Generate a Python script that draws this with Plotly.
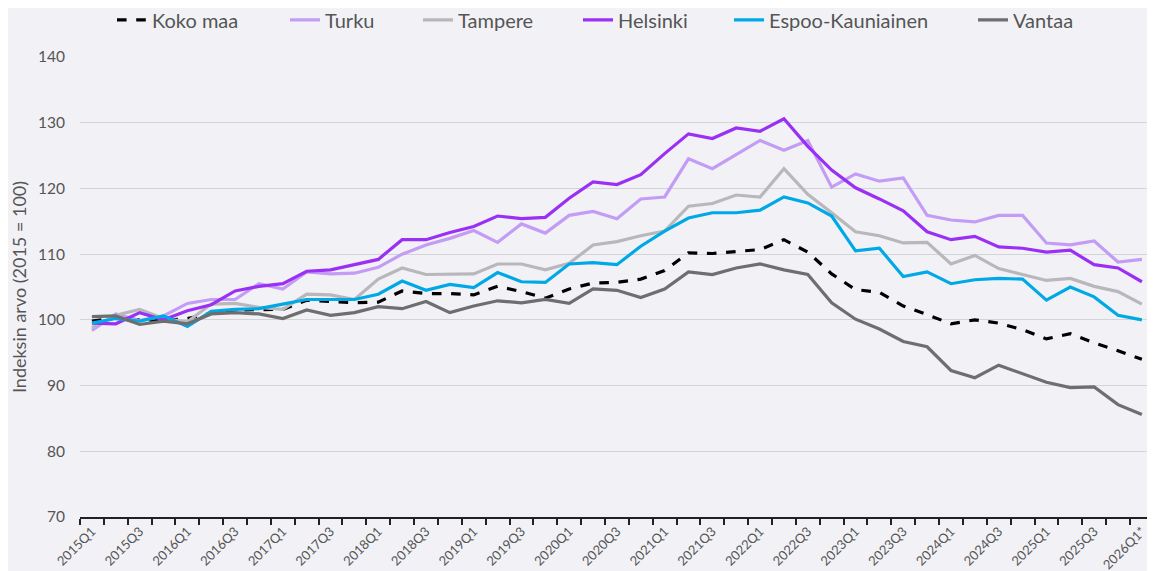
import plotly.graph_objects as go

quarters = [f"{y}Q{q}" for y in range(2015, 2026) for q in range(1, 5)] + ["2026Q1*"]

koko_maa = [99.8, 100.3, 100.0, 99.9, 100.2, 101.0, 101.5, 101.6, 101.6, 103.0, 102.8, 102.6, 102.7,
            104.4, 104.0, 104.0, 103.8, 105.1, 104.3, 103.3, 104.7, 105.6, 105.7, 106.2, 107.5,
            110.2, 110.1, 110.4, 110.7, 112.2, 110.3, 107.0, 104.6, 104.2, 102.1, 100.8, 99.4,
            100.0, 99.5, 98.5, 97.1, 97.9, 96.5, 95.3, 94.0]
turku = [98.4, 100.9, 99.9, 100.6, 102.5, 103.1, 103.1, 105.5, 104.7, 107.3, 107.0, 107.1, 108.0,
         110.0, 111.4, 112.4, 113.6, 111.8, 114.6, 113.2, 115.9, 116.5, 115.4, 118.4, 118.7,
         124.5, 123.0, 125.1, 127.3, 125.8, 127.3, 120.2, 122.2, 121.1, 121.6, 115.9, 115.2,
         114.9, 115.9, 115.9, 111.7, 111.4, 112.0, 108.8, 109.2]
tampere = [98.8, 100.7, 101.6, 100.2, 99.7, 102.4, 102.5, 101.9, 101.6, 103.9, 103.8, 103.1, 106.2,
           107.9, 106.9, 106.9, 107.0, 108.5, 108.5, 107.6, 108.6, 111.4, 111.9, 112.8, 113.5,
           117.3, 117.7, 119.0, 118.7, 123.0, 119.1, 116.3, 113.4, 112.8, 111.7, 111.8, 108.5,
           109.8, 107.8, 106.9, 106.0, 106.3, 105.1, 104.3, 102.4]
helsinki = [99.5, 99.4, 101.1, 100.0, 101.4, 102.3, 104.4, 105.1, 105.5, 107.4, 107.6, 108.4, 109.2,
            112.2, 112.2, 113.3, 114.2, 115.8, 115.4, 115.6, 118.5, 121.0, 120.6, 122.1, 125.3,
            128.3, 127.6, 129.2, 128.7, 130.6, 126.4, 122.8, 120.1, 118.4, 116.6, 113.4, 112.2,
            112.7, 111.1, 110.9, 110.3, 110.6, 108.4, 107.9, 105.8]
espoo = [99.5, 100.2, 99.8, 100.6, 99.0, 101.3, 101.6, 101.7, 102.4, 103.1, 103.1, 103.1, 103.9,
         105.9, 104.5, 105.4, 104.9, 107.2, 105.8, 105.7, 108.5, 108.7, 108.4, 111.2, 113.5,
         115.5, 116.3, 116.3, 116.7, 118.7, 117.8, 115.8, 110.5, 110.9, 106.6, 107.3, 105.5,
         106.1, 106.3, 106.2, 103.0, 105.0, 103.5, 100.7, 100.0]
vantaa = [100.5, 100.6, 99.3, 99.8, 99.4, 100.9, 101.1, 100.9, 100.2, 101.5, 100.7, 101.1, 102.0,
          101.7, 102.8, 101.1, 102.1, 102.9, 102.6, 103.1, 102.5, 104.7, 104.5, 103.4, 104.7,
          107.3, 106.9, 107.9, 108.5, 107.6, 106.9, 102.6, 100.1, 98.6, 96.7, 95.9, 92.3,
          91.2, 93.1, 91.8, 90.5, 89.7, 89.8, 87.1, 85.6]

series = [
    ("Koko maa", koko_maa, "#000000", "dash"),
    ("Turku", turku, "#c39cf5", "solid"),
    ("Tampere", tampere, "#b8b8bc", "solid"),
    ("Helsinki", helsinki, "#9b30f5", "solid"),
    ("Espoo-Kauniainen", espoo, "#00a9e6", "solid"),
    ("Vantaa", vantaa, "#6e6e70", "solid"),
]
# legend entry left edges (pixels in the page) for each series
legend_left_px = [118, 291, 424, 584, 735, 979]

xs = list(range(len(quarters)))
fig = go.Figure()
legend_ids = ["legend"] + [f"legend{k}" for k in range(2, len(series) + 1)]
for (name, vals, color, dash), lid in zip(series, legend_ids):
    fig.add_trace(go.Scatter(
        x=xs, y=vals, name=name, mode="lines", legend=lid,
        line=dict(color=color, width=3.2, dash=dash),
    ))

bg = "#f2f2f6"
font = "Lato, 'Open Sans', sans-serif"
plot_left, plot_w = 80, 1075
legend_cfg = {}
for lid, px in zip(legend_ids, legend_left_px):
    legend_cfg[lid] = dict(
        orientation="h", x=(px - 6 - plot_left) / plot_w, xanchor="left",
        y=0.979, yanchor="middle", yref="container",
        font=dict(size=20, color="#555555"), bgcolor="rgba(0,0,0,0)",
    )

fig.update_layout(
    width=1147, height=563,
    paper_bgcolor=bg, plot_bgcolor=bg,
    margin=dict(l=72, r=0, t=49, b=54, autoexpand=False),
    font=dict(family=font, color="#555555"),
    showlegend=True,
    **legend_cfg,
    xaxis=dict(
        range=[-0.5, 44.55], automargin=False,
        tickmode="array", tickvals=xs[::2], ticktext=quarters[::2],
        tickangle=-45, ticks="", showgrid=False, zeroline=False,
        showline=True, linecolor="#222222", linewidth=1.5,
        tickfont=dict(size=13, color="#555555"),
        minor=dict(tickmode="array", tickvals=[i - 0.5 for i in range(len(quarters) + 1)],
                   ticks="outside", ticklen=6, tickcolor="#222222", tickwidth=1.5, showgrid=False),
    ),
    yaxis=dict(
        range=[70, 140], dtick=10, tick0=70, automargin=False,
        showgrid=True, gridcolor="#d3d3d8", gridwidth=1.2, zeroline=False,
        showline=False, ticks="", ticklabelstandoff=14,
        tickfont=dict(size=15.5, color="#555555"),
        title=dict(text="Indeksin arvo (2015 = 100)", font=dict(size=18, color="#555555"), standoff=12),
    ),
)
fig.write_html("out.html")
